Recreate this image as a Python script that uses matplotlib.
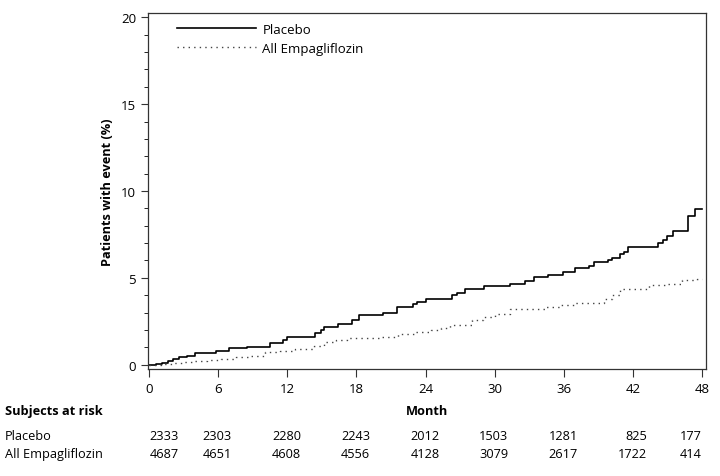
import numpy as np
import matplotlib
matplotlib.use("Agg")
import matplotlib.pyplot as plt
import matplotlib.transforms as mtransforms

plt.rcParams['font.family'] = ['Open Sans', 'DejaVu Sans']

# step points (month, % with event)
placebo_month = [0, 0.6, 1.1, 1.6, 2.1, 2.6, 3.3, 4.0, 5.8, 6.9, 8.5, 10.5, 11.6, 12.0, 14.4, 14.9,
                 15.2, 16.4, 17.6, 18.2, 20.3, 21.5, 22.9, 23.3, 24.0, 26.3, 26.7, 27.4, 29.1, 31.3,
                 32.6, 33.4, 34.6, 35.9, 37.0, 38.2, 38.6, 39.8, 40.2, 40.9, 41.2, 41.6, 44.2, 44.6,
                 45.0, 45.5, 46.8, 47.4, 48.0]
placebo_pct = [0, 0.05, 0.12, 0.22, 0.32, 0.42, 0.52, 0.66, 0.79, 0.95, 1.02, 1.25, 1.4, 1.58, 1.81, 2.0,
               2.16, 2.36, 2.55, 2.84, 2.97, 3.32, 3.5, 3.61, 3.76, 4.0, 4.15, 4.34, 4.52, 4.65,
               4.81, 5.04, 5.19, 5.35, 5.54, 5.7, 5.89, 6.05, 6.16, 6.35, 6.47, 6.8, 7.0, 7.2,
               7.4, 7.72, 8.55, 8.97, 8.97]

empa_month = [0, 1, 2, 3, 4, 5, 6.2, 7.5, 8.8, 10.1, 11.4, 12.7, 14.3, 15.2, 16.2, 17.2, 20, 21.6, 23,
              24.5, 25.3, 26.1, 28, 29, 30, 31.3, 34.5, 35.8, 37, 39.5, 40.2, 40.9, 43.4, 45, 46.3,
              47.6, 48]
empa_pct = [0, 0.05, 0.1, 0.17, 0.23, 0.28, 0.33, 0.42, 0.52, 0.71, 0.8, 0.9, 1.1, 1.29, 1.42, 1.54,
            1.58, 1.78, 1.87, 1.97, 2.12, 2.3, 2.55, 2.75, 2.93, 3.18, 3.32, 3.45, 3.57, 3.8, 4.0,
            4.34, 4.58, 4.63, 4.86, 4.96, 4.96]

risk_months = [0, 6, 12, 18, 24, 30, 36, 42, 48]
risk_placebo = [2333, 2303, 2280, 2243, 2012, 1503, 1281, 825, 177]
risk_empa = [4687, 4651, 4608, 4556, 4128, 3079, 2617, 1722, 414]

W, H = 720, 477
FS = 9.2
fig = plt.figure(figsize=(7.2, 4.77), dpi=100)
ax = fig.add_axes([148 / W, 1 - 370 / H, (706 - 148) / W, (370 - 14) / H])

ax.plot(placebo_month, placebo_pct, drawstyle='steps-post', color='black', lw=1.2, label='Placebo')
ax.plot(empa_month, empa_pct, drawstyle='steps-post', color='#444444', lw=1.0,
        linestyle=(0, (1, 3)), label='All Empagliflozin')

ax.set_xlim(-0.1, 48.35)
ax.set_ylim(-0.25, 20.25)
ax.set_xticks(risk_months)
ax.set_yticks([0, 5, 10, 15, 20])
ax.set_yticks(np.arange(0, 21, 1), minor=True)
ax.tick_params(axis='both', labelsize=FS + 0.3, direction='out', color='#333333')
ax.tick_params(axis='y', which='major', length=5)
ax.tick_params(axis='y', which='minor', length=3)
ax.tick_params(axis='x', length=6)
for s in ax.spines.values():
    s.set_color('#333333')
    s.set_linewidth(0.9)

ax.set_ylabel('Patients with event (%)', fontsize=FS, fontweight='bold', labelpad=5)
ax.set_xlabel('Month', fontsize=FS, fontweight='bold', labelpad=6)

ax.legend(loc='upper left', bbox_to_anchor=(0.03, 1.005), frameon=False, fontsize=FS + 0.3,
          handlelength=6.0, handletextpad=0.5, labelspacing=0.45)

# subjects at risk table
fig.text(5 / W, 1 - 411 / H, 'Subjects at risk', fontsize=FS, fontweight='bold', va='center')
fig.text(5 / W, 1 - 437 / H, 'Placebo', fontsize=FS, va='center')
fig.text(5 / W, 1 - 455 / H, 'All Empagliflozin', fontsize=FS, va='center')

tr = mtransforms.blended_transform_factory(ax.transData, fig.transFigure)
for m, p, e in zip(risk_months, risk_placebo, risk_empa):
    if m == 0:
        x, ha = 0.05, 'left'
    elif m == 48:
        x, ha = 48.0, 'right'
    else:
        x, ha = m + 1.2, 'right'
    ax.text(x, 1 - 437 / H, str(p), transform=tr, ha=ha, va='center', fontsize=FS, clip_on=False)
    ax.text(x, 1 - 455 / H, str(e), transform=tr, ha=ha, va='center', fontsize=FS, clip_on=False)

fig.savefig('out.png', dpi=100)
